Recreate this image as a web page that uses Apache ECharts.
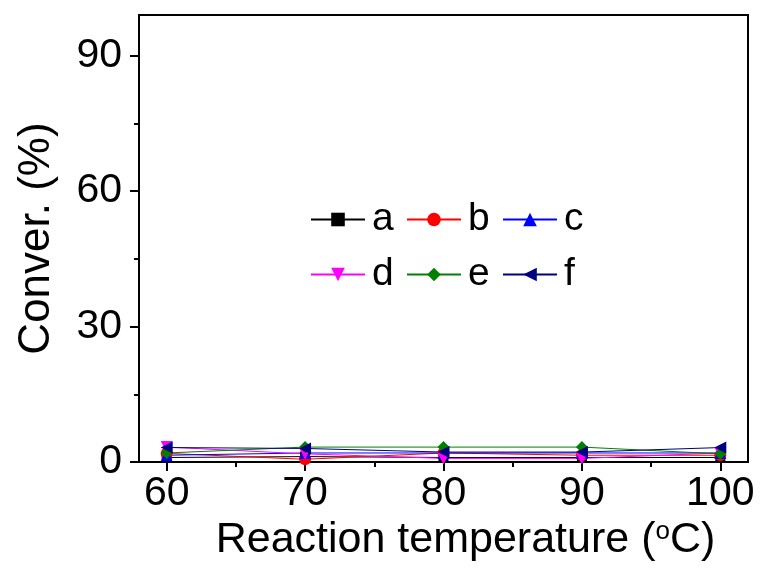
<!DOCTYPE html>
<html>
<head>
<meta charset="utf-8">
<script src="https://cdn.jsdelivr.net/npm/echarts@6/dist/echarts.min.js"></script>
<style>html,body{margin:0;padding:0;background:#fff;}#c{width:760px;height:568px;}</style>
</head>
<body>
<div id="c"></div>
<script>
const temps = [60, 70, 80, 90, 100];
const seriesNames = ['a', 'b', 'c', 'd', 'e', 'f'];
const aVals = [1.0, 1.2, 1.0, 1.0, 1.0];
const bVals = [1.9, 0.6, 2.0, 1.5, 1.5];
const cVals = [1.5, 2.0, 2.0, 2.0, 2.0];
const dVals = [3.3, 1.8, 0.8, 0.8, 2.0];
const eVals = [2.0, 3.3, 3.3, 3.3, 1.8];
const fVals = [3.2, 3.0, 2.2, 2.2, 3.2];
const xTickLabels = [60, 70, 80, 90, 100];
const xMinorTicks = [65, 75, 85, 95];
const yTickLabels = [0, 30, 60, 90];
const yMinorTicks = [15, 45, 75];

const allVals = [aVals, bVals, cVals, dVals, eVals, fVals];
const colors = ['#000000', '#ff0000', '#0000ff', '#ff00ff', '#008000', '#000080'];
const symbols = ['rect', 'circle', 'triangle', 'triangle', 'diamond', 'triangle'];
const rotates = [0, 0, 0, 180, 0, 90];
const sizes = [10, 12, 12, 12, 12, 12];
const FONT = 'Liberation Sans, Arial, sans-serif';

const series = seriesNames.map((n, i) => ({
  name: n,
  type: 'line',
  data: temps.map((t, j) => [t, allVals[i][j]]),
  symbol: symbols[i],
  symbolRotate: rotates[i],
  symbolSize: sizes[i],
  showAllSymbol: true,
  itemStyle: { color: colors[i] },
  lineStyle: { color: colors[i], width: 1 },
  emphasis: { disabled: true },
  animation: false
}));

const legendPos = [[305, 195], [401, 195], [497, 195], [305, 250], [401, 250], [497, 250]];
const legends = seriesNames.map((n, i) => ({
  data: [n],
  left: legendPos[i][0],
  top: legendPos[i][1],
  itemWidth: 54,
  itemHeight: 17,
  itemGap: 0,
  textStyle: { fontSize: 39, color: '#000', fontFamily: FONT, padding: [0, 0, 0, 2] },
  selectedMode: false
}));

const axisBase = {
  type: 'value',
  splitLine: { show: false },
  axisLine: { show: true, lineStyle: { color: '#000', width: 2 } }
};

const option = {
  backgroundColor: '#fff',
  animation: false,
  grid: { left: 139, right: 12, top: 15, bottom: 106, show: true, borderColor: '#000', borderWidth: 2, backgroundColor: 'transparent' },
  legend: legends,
  xAxis: [
    Object.assign({}, axisBase, {
      min: 58, max: 102,
      position: 'bottom',
      axisTick: { show: true, inside: false, length: 9, customValues: xTickLabels, lineStyle: { color: '#000', width: 2 } },
      axisLabel: { show: true, customValues: xTickLabels, fontSize: 41, color: '#000', fontFamily: FONT, margin: 11 },
      name: 'Reaction temperature ({sup|o}C)',
      nameLocation: 'middle',
      nameGap: 55,
      nameTextStyle: {
        fontSize: 43, color: '#000', fontFamily: FONT, padding: [0, 0, 0, 44],
        rich: { sup: { fontSize: 26, color: '#000', fontFamily: FONT, verticalAlign: 'top', padding: [0, 0, 14, 0] } }
      }
    }),
    Object.assign({}, axisBase, {
      min: 58, max: 102,
      position: 'bottom',
      axisLine: { show: false },
      axisTick: { show: true, inside: false, length: 5, customValues: xMinorTicks, lineStyle: { color: '#000', width: 2 } },
      axisLabel: { show: false }
    })
  ],
  yAxis: [
    Object.assign({}, axisBase, {
      min: 0, max: 99,
      position: 'left',
      axisTick: { show: true, inside: false, length: 9, customValues: yTickLabels, lineStyle: { color: '#000', width: 2 } },
      axisLabel: { show: true, customValues: yTickLabels, fontSize: 41, color: '#000', fontFamily: FONT, margin: 17 },
      name: 'Conver. (%)',
      nameLocation: 'middle',
      nameGap: 80,
      nameRotate: 90,
      nameTextStyle: { fontSize: 44, color: '#000', fontFamily: FONT }
    }),
    Object.assign({}, axisBase, {
      min: 0, max: 99,
      position: 'left',
      axisLine: { show: false },
      axisTick: { show: true, inside: false, length: 5, customValues: yMinorTicks, lineStyle: { color: '#000', width: 2 } },
      axisLabel: { show: false }
    })
  ],
  series: series
};

const chart = echarts.init(document.getElementById('c'), null, { renderer: 'canvas' });
chart.setOption(option);
</script>
</body>
</html>
